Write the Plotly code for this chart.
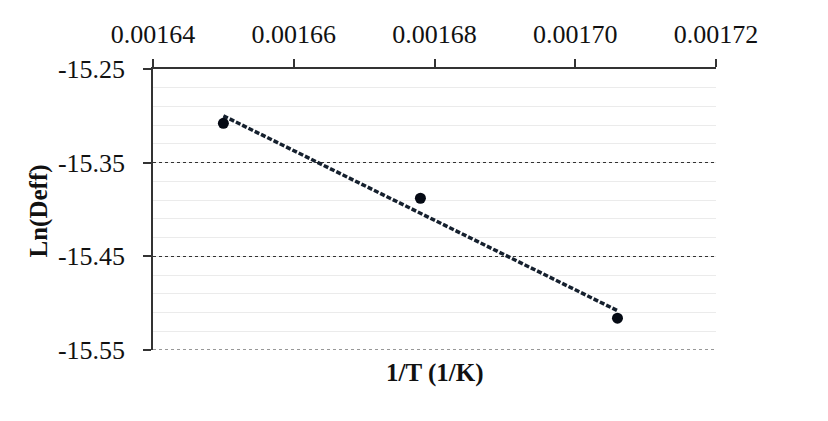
import numpy as np
import plotly.graph_objects as go

# Data
inv_T = [0.00165, 0.001678, 0.001706]          # 1/T (1/K)
ln_deff = [-15.308, -15.388, -15.516]           # Ln(Deff)

x_ticks = [0.00164, 0.00166, 0.00168, 0.00170, 0.00172]
y_ticks = [-15.25, -15.35, -15.45, -15.55]

# linear trendline from the data
slope, intercept = np.polyfit(inv_T, ln_deff, 1)
fit_x = [min(inv_T), max(inv_T)]
fit_y = [slope * v + intercept for v in fit_x]

FONT = "Liberation Serif, Times New Roman, serif"

fig = go.Figure()
fig.add_trace(go.Scatter(
    x=fit_x, y=fit_y, mode="lines",
    line=dict(color="#15202e", width=3.5, dash="5px,2px"),
    showlegend=False, hoverinfo="skip"))
fig.add_trace(go.Scatter(
    x=inv_T, y=ln_deff, mode="markers",
    marker=dict(color="#050a14", size=11),
    showlegend=False))

# bottom major gridline (plotly hides grid lines at the range edge)
fig.add_shape(type="line", xref="paper", x0=0, x1=1,
              yref="y", y0=y_ticks[-1], y1=y_ticks[-1],
              line=dict(color="#333333", width=1.2, dash="dot"), layer="below")

fig.update_layout(
    width=828, height=421,
    margin=dict(l=145, r=120, t=57, b=79),
    paper_bgcolor="white", plot_bgcolor="white",
    font=dict(family=FONT, size=26, color="#111111"),
    xaxis=dict(
        side="top", range=[0.00164, 0.00172],
        tickvals=x_ticks, ticktext=[f"{v:.5f}" for v in x_ticks],
        showgrid=False, zeroline=False,
        showline=True, linecolor="#333333", linewidth=1.5,
        ticks="outside", ticklen=8, tickcolor="#333333", tickwidth=1.5,
        ticklabelstandoff=6,
        tickfont=dict(family=FONT, size=26, color="#111111"),
    ),
    yaxis=dict(
        range=[-15.55, -15.25],
        tickvals=y_ticks, ticktext=[f"{v:.2f}" for v in y_ticks],
        showgrid=True, gridcolor="#333333", gridwidth=1.2, griddash="dot",
        zeroline=False,
        showline=True, linecolor="#333333", linewidth=1.5,
        ticks="outside", ticklen=8, tickcolor="#333333", tickwidth=1.5,
        ticklabelstandoff=13,
        tickfont=dict(family=FONT, size=26, color="#111111"),
        minor=dict(dtick=0.02, tick0=-15.25, showgrid=True,
                   gridcolor="#ebebeb", gridwidth=1, griddash="solid", ticks=""),
    ),
    annotations=[
        dict(text="<b>1/T (1/K)</b>", xref="paper", yref="paper",
             x=0.5, y=0, yanchor="middle", xanchor="center", yshift=-23,
             showarrow=False, font=dict(family=FONT, size=25, color="#111111")),
        dict(text="<b>Ln(Deff)</b>", xref="paper", yref="paper",
             x=0, y=0.5, xanchor="center", yanchor="middle", xshift=-115, yshift=-2,
             textangle=-90, showarrow=False,
             font=dict(family=FONT, size=25, color="#111111")),
    ],
)

fig.write_html("out.html")
